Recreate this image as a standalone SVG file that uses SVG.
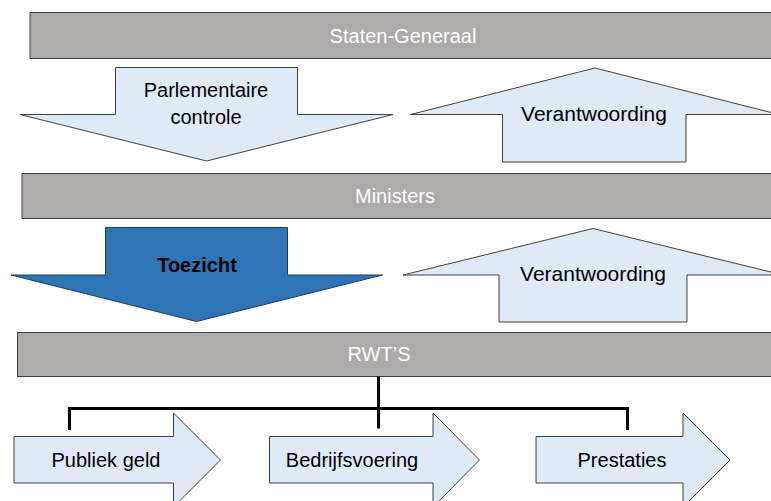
<svg xmlns="http://www.w3.org/2000/svg" width="771" height="501" viewBox="0 0 771 501">
<style>
.bar{fill:#AEAAAA;stroke:#404040;stroke-width:1}
.arw{fill:#DEEBF7;stroke:#404040;stroke-width:1;stroke-linejoin:miter}
.dark{fill:#2E75B6;stroke:#1F3F60;stroke-width:1}
.bt{font-family:"Liberation Sans",Arial,sans-serif;font-size:20px;fill:#FFFFFF;text-anchor:middle}
.at{font-family:"Liberation Sans",Arial,sans-serif;font-size:20px;fill:#000000;text-anchor:middle}
.vt{font-size:21px}
.conn{fill:none;stroke:#000000;stroke-width:3}
</style>
<rect width="771" height="501" fill="#FFFFFF"/>
<g id="staten-generaal">
<rect class="bar" x="30" y="12.5" width="750" height="46"/>
<text class="bt" x="403" y="42.5">Staten-Generaal</text>
</g>
<g id="parlementaire-controle">
<polygon class="arw" points="115.5,67.5 297.5,67.5 297.5,114.5 393,114.5 206.5,161 20,114.5 115.5,114.5"/>
<text class="at" x="206" y="97">Parlementaire</text>
<text class="at" x="206" y="124">controle</text>
</g>
<g id="verantwoording-1">
<polygon class="arw" points="595,68 779,114.5 686,114.5 686,162 502.5,162 502.5,114.5 410.5,114.5"/>
<text class="at vt" x="594" y="121">Verantwoording</text>
</g>
<g id="ministers">
<rect class="bar" x="22" y="173.5" width="760" height="45"/>
<text class="bt" x="395" y="203">Ministers</text>
</g>
<g id="toezicht">
<polygon class="dark" points="105.5,227.5 287.5,227.5 287.5,275 382.5,275 196.5,321.5 11,275 105.5,275"/>
<text class="at" x="197" y="272" font-weight="bold">Toezicht</text>
</g>
<g id="verantwoording-2">
<polygon class="arw" points="593,228.5 783,275 687,275 687,322 499,322 499,275 403,275"/>
<text class="at vt" x="593" y="281">Verantwoording</text>
</g>
<g id="rwts">
<rect class="bar" x="17.5" y="332.5" width="765" height="44"/>
<text class="bt" x="379" y="361">RWT’S</text>
</g>
<g id="connectors">
<path class="conn" d="M378.5,376.5 V428.5 M69.5,430 V408.5 H627.5 V430"/>
</g>
<g id="publiek-geld">
<polygon class="arw" points="14,436.5 173.5,436.5 173.5,413 220.5,460 173.5,507 173.5,483 14,483"/>
<text class="at" x="106" y="467">Publiek geld</text>
</g>
<g id="bedrijfsvoering">
<polygon class="arw" points="269.5,436.5 433,436.5 433,413 479.5,460 433,507 433,483 269.5,483"/>
<text class="at" x="352" y="467">Bedrijfsvoering</text>
</g>
<g id="prestaties">
<polygon class="arw" points="536,436.5 683,436.5 683,413 730,460 683,507 683,483 536,483"/>
<text class="at" x="622" y="467">Prestaties</text>
</g>
</svg>
